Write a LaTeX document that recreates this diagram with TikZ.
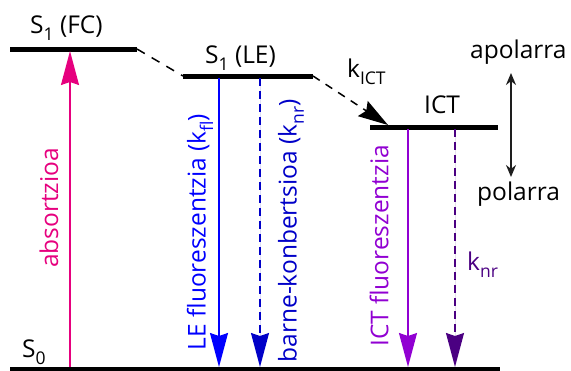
\documentclass[tikz,border=0pt]{standalone}
\usepackage{fontspec}
\setmainfont{Open Sans}
\usetikzlibrary{arrows.meta}
\definecolor{absmag}{RGB}{230,0,126}
\definecolor{leblue}{RGB}{0,0,255}
\definecolor{icblue}{RGB}{0,0,200}
\definecolor{ictpurple}{RGB}{145,0,210}
\definecolor{ictindigo}{RGB}{75,0,130}
\definecolor{axisgray}{RGB}{30,30,30}
% lowered index in the text font
\newcommand\lowidx[1]{\raisebox{-0.3em}{\fontsize{17.5}{17.5}\selectfont #1}}
\begin{document}
\begin{tikzpicture}[x=1pt,y=-1pt,
  font=\fontsize{24.5}{28}\selectfont,
  levelline/.style={line width=5pt},
  bigtip/.style={-{Stealth[length=34pt,width=18pt,inset=3pt]}},
  transition/.style={bigtip,line width=1.5pt},
  lbl/.style={inner sep=0pt},
  vlbl/.style={inner sep=0pt,rotate=90}]
\useasboundingbox (0,0) rectangle (571,370);

% energy levels
\coordinate (fcL) at (10,49);   \coordinate (fcR) at (137,49);
\coordinate (leL) at (183,76);  \coordinate (leR) at (313,76);
\coordinate (ictL) at (370,127); \coordinate (ictR) at (498,127);
\coordinate (s0L) at (10,369);  \coordinate (s0R) at (500,369);
\draw[levelline] (fcL) -- (fcR);
\draw[levelline] (leL) -- (leR);
\draw[levelline] (ictL) -- (ictR);
\draw[line width=4pt] (s0L) -- (s0R);

% level labels
\node[lbl,anchor=base west] (lfc) at (30,33) {S\lowidx{1} (FC)};
\node[lbl,anchor=base west] (lle) at (205,63) {S\lowidx{1} (LE)};
\node[lbl,anchor=base west] (lict) at (424,113) {ICT};
\node[lbl,anchor=base west] (ls0) at (22,357) {S\lowidx{0}};

% relaxation FC -> LE and charge transfer LE -> ICT
\draw[line width=1.5pt,dash pattern=on 9pt off 8pt] (fcR) -- (leL);
\coordinate (ictin) at (388,125);
\draw[line width=1.5pt,dash pattern=on 8pt off 7pt,
      -{Stealth[length=30pt,width=18pt,inset=4pt]}] (leR) -- (ictin);
\node[lbl,anchor=base west] (lkict) at (347,77) {k\lowidx{ICT}};

% absorption
\coordinate (absbot) at (70,367); \coordinate (abstop) at (70,51);
\draw[transition,draw=absmag,fill=absmag] (absbot) -- (abstop);
\node[vlbl,text=absmag] (labs) at (49,208) {absortzioa};

% LE decay channels
\coordinate (fltop) at (219,78); \coordinate (flbot) at (219,367);
\draw[transition,draw=leblue,fill=leblue] (fltop) -- (flbot);
\node[vlbl,text=leblue] (lfl) at (200,232) {LE fluoreszentzia (k\lowidx{fl})};
\coordinate (ictop) at (260,78); \coordinate (icbot) at (260,367);
\draw[transition,draw=icblue,fill=icblue,dash pattern=on 8pt off 5pt] (ictop) -- (icbot);
\node[vlbl,text=icblue] (lic) at (291,231) {barne-konbertsioa (k\lowidx{nr})};

% ICT decay channels
\coordinate (ifltop) at (408,129); \coordinate (iflbot) at (408,367);
\draw[transition,draw=ictpurple,fill=ictpurple] (ifltop) -- (iflbot);
\node[vlbl,text=ictpurple] (lifl) at (379,246) {ICT fluoreszentzia};
\coordinate (inrtop) at (455,129); \coordinate (inrbot) at (455,367);
\draw[transition,draw=ictindigo,fill=ictindigo,dash pattern=on 8pt off 5pt] (inrtop) -- (inrbot);
\node[lbl,anchor=base west,text=ictindigo] (linr) at (467,270) {k\lowidx{nr}};

% solvent polarity axis
\node[lbl,anchor=base west] (lapol) at (470,58) {apolarra};
\node[lbl,anchor=base west] (lpol) at (477,200) {polarra};
\coordinate (axtop) at (511,73); \coordinate (axbot) at (511,177);
\draw[axisgray,line width=1.5pt,
      {Stealth[length=12pt,width=10pt]}-{Stealth[length=12pt,width=10pt]}] (axtop) -- (axbot);
\end{tikzpicture}
\end{document}
